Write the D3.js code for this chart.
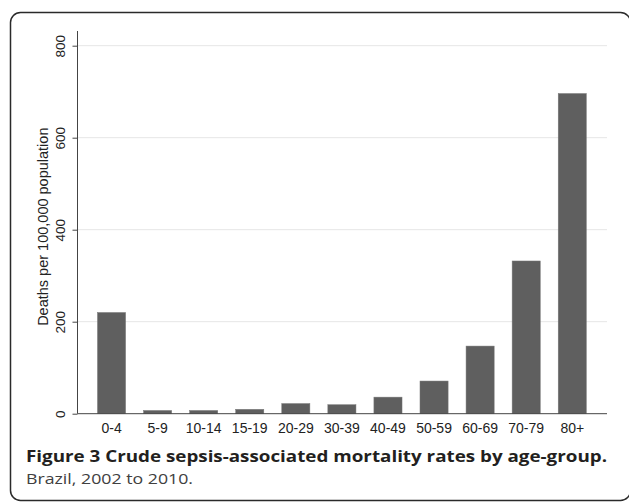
<!DOCTYPE html>
<html>
<head>
<meta charset="utf-8">
<script src="https://cdn.jsdelivr.net/npm/d3@7"></script>
<style>
  body { margin: 0; background: #fff; }
  svg { display: block; }
</style>
</head>
<body>
<div id="chart"></div>
<script>
const width = 629;
const height = 502;

// Data
const ageGroups = ["0-4", "5-9", "10-14", "15-19", "20-29", "30-39", "40-49", "50-59", "60-69", "70-79", "80+"];
const deathRates = [220, 7, 7, 9.5, 22, 19.5, 36, 71, 147, 332, 696];
const yTicks = [0, 200, 400, 600, 800];

const plot = { left: 77.5, right: 607, top: 31, bottom: 413.7 };
const axisFont = "Liberation Sans, Arial, sans-serif";

const svg = d3.select("#chart").append("svg")
  .attr("width", width)
  .attr("height", height);

// Rounded frame, running off the right and bottom edges
svg.append("rect")
  .attr("x", 10.5)
  .attr("y", 12.5)
  .attr("width", 620)
  .attr("height", 488)
  .attr("rx", 10)
  .attr("fill", "none")
  .attr("stroke", "#2a2a2a")
  .attr("stroke-width", 1.5);

const x = d3.scaleBand()
  .domain(ageGroups)
  .range([88.5, 595.3])
  .paddingInner(0.39)
  .paddingOuter(0.195);

const y = d3.scaleLinear()
  .domain([0, 800])
  .range([plot.bottom, 45.7]);

// Gridlines
svg.append("g")
  .selectAll("line")
  .data(yTicks.filter(d => d > 0))
  .join("line")
  .attr("x1", plot.left)
  .attr("x2", plot.right)
  .attr("y1", d => y(d))
  .attr("y2", d => y(d))
  .attr("stroke", "#e6e6e6")
  .attr("stroke-width", 1);

// Bars
svg.append("g")
  .selectAll("rect")
  .data(deathRates)
  .join("rect")
  .attr("x", (d, i) => x(ageGroups[i]))
  .attr("width", x.bandwidth())
  .attr("y", d => y(d))
  .attr("height", d => y(0) - y(d))
  .attr("fill", "#5f5f5f")
  .attr("stroke", "#777")
  .attr("stroke-width", 0.5);

// Y axis
const yAxis = svg.append("g")
  .attr("transform", `translate(${plot.left},0)`)
  .call(d3.axisLeft(y).tickValues(yTicks).tickSize(5).tickFormat(d3.format("d")));
yAxis.select(".domain")
  .attr("d", `M0,${plot.top}V${plot.bottom}`)
  .attr("stroke", "#444");
yAxis.selectAll(".tick line").attr("stroke", "#444");
yAxis.selectAll(".tick text")
  .attr("x", null)
  .attr("dy", null)
  .attr("transform", "translate(-12.5,0) rotate(-90)")
  .attr("text-anchor", "middle")
  .attr("font-family", axisFont)
  .attr("font-size", 13.5)
  .attr("fill", "#222");

// X axis
const xAxis = svg.append("g")
  .attr("transform", `translate(0,${plot.bottom})`)
  .call(d3.axisBottom(x).tickSize(0).tickPadding(9));
xAxis.select(".domain")
  .attr("d", `M${plot.left},0H${plot.right}`)
  .attr("stroke", "#444");
xAxis.selectAll(".tick text")
  .attr("font-family", axisFont)
  .attr("font-size", 14)
  .attr("fill", "#222");

// Y axis title
svg.append("text")
  .attr("transform", `translate(48,${y(400) - 3}) rotate(-90)`)
  .attr("text-anchor", "middle")
  .attr("font-family", axisFont)
  .attr("font-size", 14.5)
  .attr("fill", "#222")
  .text("Deaths per 100,000 population");

// Caption
svg.append("text")
  .attr("x", 26)
  .attr("y", 462)
  .attr("font-family", "Open Sans, Noto Sans, sans-serif")
  .attr("font-size", 16.5)
  .attr("font-weight", "bold")
  .attr("fill", "#231f20")
  .attr("textLength", 581)
  .attr("lengthAdjust", "spacingAndGlyphs")
  .text("Figure 3 Crude sepsis-associated mortality rates by age-group.");

svg.append("text")
  .attr("x", 26)
  .attr("y", 483.5)
  .attr("font-family", "Open Sans, Noto Sans, sans-serif")
  .attr("font-size", 15)
  .attr("fill", "#404040")
  .attr("textLength", 167)
  .attr("lengthAdjust", "spacingAndGlyphs")
  .text("Brazil, 2002 to 2010.");
</script>
</body>
</html>
